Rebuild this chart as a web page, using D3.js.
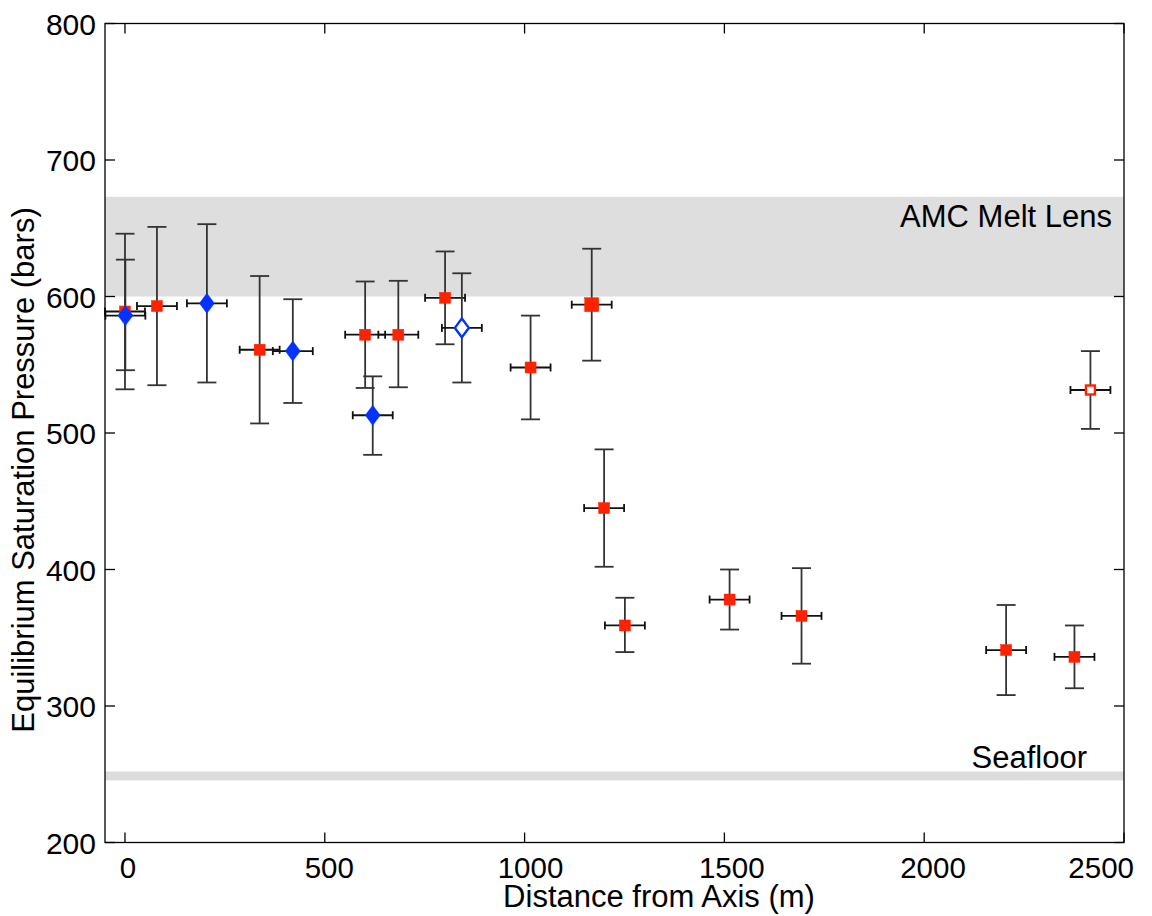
<!DOCTYPE html>
<html>
<head>
<meta charset="utf-8">
<script src="https://cdn.jsdelivr.net/npm/d3@7"></script>
<style>
  body { margin: 0; background: #fff; }
  text { font-family: "Liberation Sans", Arial, sans-serif; fill: #000; }
</style>
</head>
<body>
<script>
// data
// red squares (filled)
const redX  = [0, 80, 337, 601, 684, 801, 1015, 1168, 1199, 1251, 1513, 1693, 2205, 2376];
const redY  = [589, 593, 561, 572, 572, 599, 548, 594, 445, 359, 378, 366, 341, 336];
const redLo = [532, 535, 507, 533, 533.5, 565, 510, 553, 402, 339.5, 356, 331, 308, 313];
const redHi = [646, 651, 615, 611, 611.5, 633, 586, 635, 488, 379.3, 400, 401, 374, 359];
const redBig = [false, false, false, false, false, false, false, true, false, false, false, false, false, false];
// red square (open)
const redOpenX = [2416], redOpenY = [531.5], redOpenLo = [503], redOpenHi = [560];
// blue diamonds (filled)
const blueX  = [1, 205, 420, 620];
const blueY  = [586, 595, 560, 513];
const blueLo = [546, 537, 522, 484];
const blueHi = [627, 653, 598, 541.5];
// blue diamond (open)
const blueOpenX = [843], blueOpenY = [577], blueOpenLo = [537], blueOpenHi = [617];
// horizontal error (m), same for every sample
const xErr = 50;

const xTicks = [0, 500, 1000, 1500, 2000, 2500];
const yTicks = [200, 300, 400, 500, 600, 700, 800];
const amcBand = [600, 673];
const seafloorBand = [245.5, 252];

const width = 1152, height = 916;
const plotLeft = 105, plotRight = 1124, plotTop = 23.5, plotBottom = 842.5;
const red = "#ff2200", blue = "#0033ff";

const svg = d3.select("body").append("svg")
    .attr("width", width)
    .attr("height", height);

const x = d3.scaleLinear().domain([-50, 2500]).range([plotLeft, plotRight]);
const y = d3.scaleLinear().domain([200, 800]).range([plotBottom, plotTop]);
// tick labels in the original sit a little to the right of their ticks
const xLabel = d3.scaleLinear().domain([0, 2000]).range([128, 933]);

// shaded bands
svg.append("rect")
    .attr("x", plotLeft).attr("width", plotRight - plotLeft)
    .attr("y", y(amcBand[1])).attr("height", y(amcBand[0]) - y(amcBand[1]))
    .attr("fill", "#dedede");
svg.append("rect")
    .attr("x", plotLeft).attr("width", plotRight - plotLeft)
    .attr("y", y(seafloorBand[1])).attr("height", y(seafloorBand[0]) - y(seafloorBand[1]))
    .attr("fill", "#dcdcdc");

svg.append("text")
    .attr("x", 1112).attr("y", 227)
    .attr("text-anchor", "end")
    .style("font-size", "31px")
    .text("AMC Melt Lens");
svg.append("text")
    .attr("x", 1087).attr("y", 768)
    .attr("text-anchor", "end")
    .style("font-size", "31px")
    .text("Seafloor");

// build point list from the arrays
function pts(xs, ys, lo, hi, kind, filled, big) {
    return xs.map((d, i) => ({ x: d, y: ys[i], lo: lo[i], hi: hi[i], kind, filled, big: big ? big[i] : false }));
}
const points = [].concat(
    pts(redX, redY, redLo, redHi, "square", true, redBig),
    pts(redOpenX, redOpenY, redOpenLo, redOpenHi, "square", false),
    pts(blueX, blueY, blueLo, blueHi, "diamond", true),
    pts(blueOpenX, blueOpenY, blueOpenLo, blueOpenHi, "diamond", false)
);

// error bars
const eb = svg.append("g")
    .attr("stroke", "#333")
    .attr("stroke-width", 1.8)
    .attr("fill", "none");

points.forEach(p => {
    const cx = x(p.x), cy = y(p.y);
    // vertical
    eb.append("line").attr("x1", cx).attr("x2", cx).attr("y1", y(p.lo)).attr("y2", y(p.hi));
    eb.append("line").attr("x1", cx - 9.5).attr("x2", cx + 9.5).attr("y1", y(p.lo)).attr("y2", y(p.lo));
    eb.append("line").attr("x1", cx - 9.5).attr("x2", cx + 9.5).attr("y1", y(p.hi)).attr("y2", y(p.hi));
    // horizontal
    const x0 = x(p.x - xErr), x1 = x(p.x + xErr);
    eb.append("line").attr("x1", x0).attr("x2", x1).attr("y1", cy).attr("y2", cy).attr("stroke", "#111");
    eb.append("line").attr("x1", x0).attr("x2", x0).attr("y1", cy - 4).attr("y2", cy + 4).attr("stroke", "#111");
    eb.append("line").attr("x1", x1).attr("x2", x1).attr("y1", cy - 4).attr("y2", cy + 4).attr("stroke", "#111");
});

// markers: red first, blue on top
const mk = svg.append("g");
points.forEach(p => {
    const cx = x(p.x), cy = y(p.y);
    const col = p.kind === "square" ? red : blue;
    if (p.kind === "square") {
        const s = p.big ? 14 : 11;
        mk.append("rect")
            .attr("x", cx - s / 2 + (p.filled ? 0 : 1)).attr("y", cy - s / 2 + (p.filled ? 0 : 1))
            .attr("width", p.filled ? s : s - 2).attr("height", p.filled ? s : s - 2)
            .attr("fill", p.filled ? col : "#fff")
            .attr("stroke", col)
            .attr("stroke-width", p.filled ? 0.5 : 2.4);
    } else {
        const hw = p.filled ? 7.5 : 7, hh = p.filled ? 10 : 9.3;
        mk.append("path")
            .attr("d", `M${cx},${cy - hh}L${cx + hw},${cy}L${cx},${cy + hh}L${cx - hw},${cy}Z`)
            .attr("fill", p.filled ? col : "#fff")
            .attr("stroke", col)
            .attr("stroke-width", p.filled ? 0.5 : 2.4);
    }
});

// frame and inward ticks on all sides
const frame = svg.append("g").attr("stroke", "#000").attr("stroke-width", 1.3);
frame.append("rect")
    .attr("x", plotLeft).attr("y", plotTop)
    .attr("width", plotRight - plotLeft).attr("height", plotBottom - plotTop)
    .attr("fill", "none");

xTicks.forEach(t => {
    frame.append("line").attr("x1", x(t)).attr("x2", x(t)).attr("y1", plotBottom).attr("y2", plotBottom - 10);
    frame.append("line").attr("x1", x(t)).attr("x2", x(t)).attr("y1", plotTop).attr("y2", plotTop + 10);
});
yTicks.forEach(t => {
    frame.append("line").attr("x1", plotLeft).attr("x2", plotLeft + 10).attr("y1", y(t)).attr("y2", y(t));
    frame.append("line").attr("x1", plotRight).attr("x2", plotRight - 10).attr("y1", y(t)).attr("y2", y(t));
});

// tick labels (last one is pulled inside the figure edge)
const lastTick = xTicks[xTicks.length - 1];
svg.append("g").selectAll("text")
    .data(xTicks)
    .join("text")
    .attr("x", d => d === lastTick ? 1134 : xLabel(d))
    .attr("y", 878)
    .attr("text-anchor", d => d === lastTick ? "end" : "middle")
    .style("font-size", "29.5px")
    .text(d => d);

svg.append("g").selectAll("text")
    .data(yTicks)
    .join("text")
    .attr("x", 96)
    .attr("y", d => y(d) + 11)
    .attr("text-anchor", "end")
    .style("font-size", "30px")
    .text(d => d);

// axis titles
svg.append("text")
    .attr("x", 659).attr("y", 907)
    .attr("text-anchor", "middle")
    .style("font-size", "31px")
    .text("Distance from Axis (m)");

svg.append("text")
    .attr("transform", "translate(34,470) rotate(-90)")
    .attr("text-anchor", "middle")
    .style("font-size", "31px")
    .text("Equilibrium Saturation Pressure (bars)");
</script>
</body>
</html>
